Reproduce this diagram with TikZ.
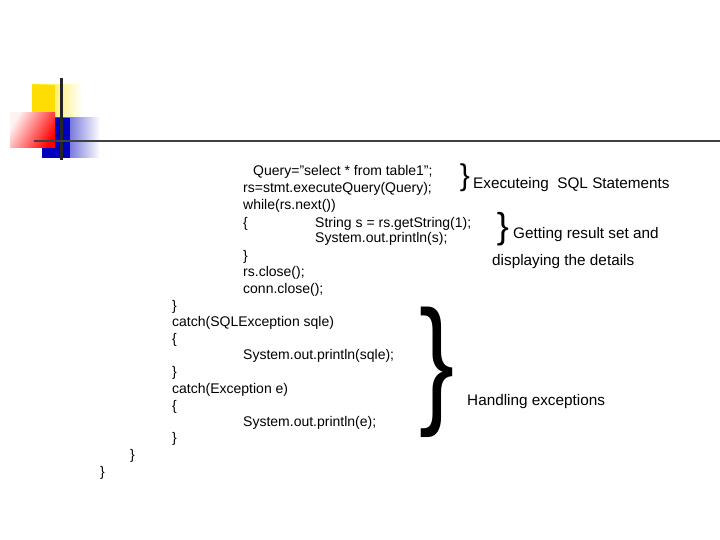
\documentclass[tikz,border=0pt]{standalone}
\usepackage{fontspec}
\setmainfont{Liberation Sans}
\usetikzlibrary{positioning}
\tikzset{codeline/.style={anchor=base west,inner sep=0pt,font=\fontsize{14}{16}\selectfont},
  notetext/.style={anchor=base west,inner sep=0pt,font=\fontsize{15.3}{17}\selectfont},
  bracebig/.style={anchor=center,inner sep=0pt}}
\begin{document}
\begin{tikzpicture}[x=1pt,y=-1pt]
\useasboundingbox (0,0) rectangle (720,540);
% corner ornament
\shade[left color=yellow!80!orange,right color=white,shading angle=90] (32,85) rectangle (82,118);
\fill[yellow!80!orange] (32,85) rectangle (55,118);
\shade[left color=blue!75!black,right color=white] (42,118) rectangle (100,158);
\fill[blue!75!black] (42,118) rectangle (70,158);
\shade[left color=red!5,right color=red,shading angle=60] (10,113) rectangle (55,148);
\draw[line width=3pt,black!85] (61,78) -- (61,160);
\draw[line width=2.5pt,black!75] (34,141) -- (720,141);
% code
\node (query) [codeline] at (253,176) {Query=\char34 select * from table1\char34;};
\node (exec) [codeline] at (243,193) {rs=stmt.executeQuery(Query);};
\node (loop) [codeline] at (243,210) {while(rs.next())};
\node (open) [codeline] at (243,227) {\{};
\node (getstr) [codeline] at (315,227) {String s = rs.getString(1);};
\node (print) [codeline] at (315,243) {System.out.println(s);};
\node (close) [codeline] at (243,260) {\}};
\node (rsclose) [codeline] at (243,276) {rs.close();};
\node (connclose) [codeline] at (243,293) {conn.close();};
\node (tryend) [codeline] at (172,310) {\}};
\node (catchsql) [codeline] at (172,326) {catch(SQLException sqle)};
\node (sqlopen) [codeline] at (172,343) {\{};
\node (sqlprint) [codeline] at (243,359) {System.out.println(sqle);};
\node (sqlclose) [codeline] at (172,376) {\}};
\node (catchex) [codeline] at (172,393) {catch(Exception e)};
\node (exopen) [codeline] at (172,410) {\{};
\node (exprint) [codeline] at (243,426) {System.out.println(e);};
\node (exclose) [codeline] at (172,442) {\}};
\node (methodend) [codeline] at (130,459) {\}};
\node (classend) [codeline] at (100,476) {\}};
% braces and notes
\node (brace1) [bracebig,font=\fontsize{30}{30}\selectfont] at (465,178) {\}};
\node (note1) [notetext] at (473,189) {Executeing\ \ SQL Statements};
\node (brace2) [bracebig,font=\fontsize{36}{36}\selectfont] at (503,229) {\}};
\node (note2) [notetext] at (513,239) {Getting result set and};
\node (note3) [notetext] at (492,265) {displaying the details};
\node (brace3) [bracebig,font=\fontsize{140}{140}\selectfont,xscale=0.75] at (437,372) {\}};
\node (note4) [notetext] at (467,405) {Handling exceptions};
\end{tikzpicture}
\end{document}
